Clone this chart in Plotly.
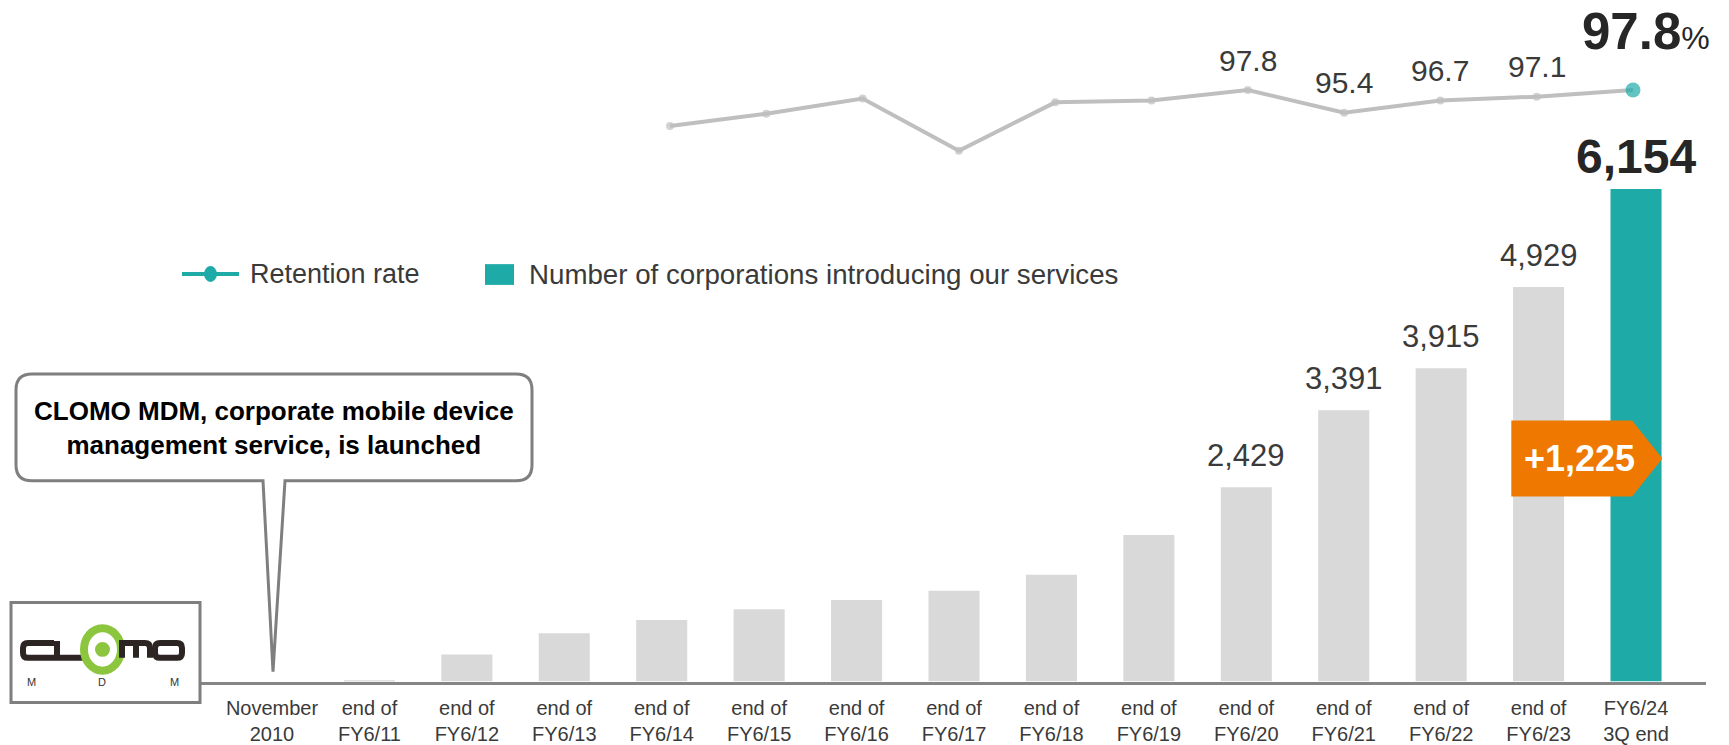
import plotly.graph_objects as go

# ---- data -------------------------------------------------------------
categories = [
    "November<br>2010", "end of<br>FY6/11", "end of<br>FY6/12", "end of<br>FY6/13",
    "end of<br>FY6/14", "end of<br>FY6/15", "end of<br>FY6/16", "end of<br>FY6/17",
    "end of<br>FY6/18", "end of<br>FY6/19", "end of<br>FY6/20", "end of<br>FY6/21",
    "end of<br>FY6/22", "end of<br>FY6/23", "FY6/24<br>3Q end",
]
corporations = [0, 10, 340, 605, 770, 905, 1020, 1135, 1335, 1830,
                2429, 3391, 3915, 4929, 6154]

retention_periods = categories[4:]
retention_rate = [94.0, 95.3, 96.9, 91.4, 96.5, 96.7, 97.8, 95.4, 96.7, 97.1, 97.8]

labelled = categories[10:14]          # periods whose values are printed

# ---- styling ----------------------------------------------------------
W, H = 1729, 745
TEAL = "#1eaba8"
BAR_GREY = "#d9d9d9"
LINE_GREY = "#bfbfbf"
FRAME_GREY = "#7f7f7f"
TEXT = "#3a3a3a"
ORANGE = "#ee7800"
SANS = "Liberation Sans, Arial, sans-serif"
NARROW = "Liberation Sans Narrow, Liberation Sans, Arial, sans-serif"


def px(x):
    return x / W


def py(y):
    return 1 - y / H


n = len(categories)
bar_colors = [BAR_GREY] * (n - 1) + [TEAL]
m = len(retention_rate)
marker_colors = [LINE_GREY] * (m - 1) + [TEAL]
marker_sizes = [8] * (m - 1) + [15]

fig = go.Figure()

fig.add_trace(go.Bar(
    x=categories, y=corporations,
    marker=dict(color=bar_colors, line=dict(width=0)),
    hoverinfo="skip", showlegend=False,
    xaxis="x", yaxis="y",
))

fig.add_trace(go.Scatter(
    x=retention_periods, y=retention_rate,
    mode="lines+markers",
    line=dict(color=LINE_GREY, width=4),
    marker=dict(color=marker_colors, size=marker_sizes, line=dict(width=0)),
    hoverinfo="skip", showlegend=False,
    xaxis="x2", yaxis="y2",
))

annotations = []

# value labels on bars
for cat in labelled:
    v = corporations[categories.index(cat)]
    annotations.append(dict(
        x=cat, y=v, xref="x", yref="y", text=f"{v:,}", showarrow=False,
        yanchor="middle", yshift=32,
        font=dict(family=SANS, size=31, color=TEXT),
    ))
annotations.append(dict(
    x=categories[-1], y=corporations[-1], xref="x", yref="y",
    text=f"<b>{corporations[-1]:,}</b>", showarrow=False,
    yanchor="middle", yshift=32,
    font=dict(family=SANS, size=48, color="#262626"),
))

# value labels on the retention line
for cat in labelled:
    r = retention_rate[retention_periods.index(cat)]
    annotations.append(dict(
        x=cat, y=r, xref="x2", yref="y2", text=f"{r:.1f}", showarrow=False,
        yanchor="middle", yshift=30,
        font=dict(family=SANS, size=30, color=TEXT),
    ))
annotations.append(dict(
    x=retention_periods[-1], y=retention_rate[-1], xref="x2", yref="y2",
    text=f"<b>{retention_rate[-1]:.1f}</b><span style='font-size:32px'>%</span>",
    showarrow=False, yanchor="middle", yshift=59, xshift=13,
    font=dict(family=SANS, size=51, color="#262626"),
))

# year-on-year increase badge
increase = corporations[-1] - corporations[-2]
annotations.append(dict(
    x=13.34, y=2787, xref="x", yref="y", text=f"<b>+{increase:,}</b>",
    showarrow=False, yanchor="middle", xshift=8,
    font=dict(family=SANS, size=36, color="white"),
))

# legend
annotations.append(dict(
    x=px(248), y=py(277), xref="paper", yref="paper", text="Retention rate",
    showarrow=False, xanchor="left", yanchor="middle",
    font=dict(family=SANS, size=27, color=TEXT),
))
annotations.append(dict(
    x=px(527), y=py(277), xref="paper", yref="paper",
    text="Number of corporations introducing our services",
    showarrow=False, xanchor="left", yanchor="middle",
    font=dict(family=SANS, size=27.7, color=TEXT),
))

# launch callout text
annotations.append(dict(
    x=px(274), y=py(433), xref="paper", yref="paper",
    text="<b>CLOMO MDM, corporate mobile device<br>management service, is launched</b>",
    showarrow=False, xanchor="center", yanchor="middle", align="center",
    font=dict(family=SANS, size=26, color="black"),
))

# logo lettering under the mark
for lx, ch in [(31, "M"), (102, "D"), (174, "M")]:
    annotations.append(dict(
        x=px(lx), y=py(689), xref="paper", yref="paper", text=ch,
        showarrow=False, xanchor="center", yanchor="middle",
        font=dict(family=SANS, size=11, color="#333333"),
    ))

shapes = []

# callout bubble with pointer
L, T, R, B, rad = 16, 378, 532, 486, 16
tip_x, tip_y = 273, 679
pts = (
    f"M {px(L + rad)},{py(T)} L {px(R - rad)},{py(T)} "
    f"Q {px(R)},{py(T)} {px(R)},{py(T + rad)} L {px(R)},{py(B - rad)} "
    f"Q {px(R)},{py(B)} {px(R - rad)},{py(B)} L {px(285)},{py(B)} "
    f"L {px(tip_x)},{py(tip_y)} L {px(263)},{py(B)} L {px(L + rad)},{py(B)} "
    f"Q {px(L)},{py(B)} {px(L)},{py(B - rad)} L {px(L)},{py(T + rad)} "
    f"Q {px(L)},{py(T)} {px(L + rad)},{py(T)} Z"
)
shapes.append(dict(type="path", xref="paper", yref="paper", path=pts,
                   fillcolor="white", line=dict(color=FRAME_GREY, width=3)))

# logo frame
shapes.append(dict(type="rect", xref="paper", yref="paper",
                   x0=px(11), x1=px(200), y0=py(609), y1=py(710),
                   fillcolor="white", line=dict(color=FRAME_GREY, width=3)))

# logo mark: c, l, ring, m, o
DARK = "#2d2424"
GREEN = "#8cc63f"
dy = 3


def stroke(d, color=DARK, w=6):
    shapes.append(dict(type="path", xref="paper", yref="paper", path=d,
                       line=dict(color=color, width=w)))


def P(x, y):
    return f"{px(x)},{py(y + dy)}"


stroke(f"M {P(54,647)} L {P(28,647)} Q {P(23,647)} {P(23,652)} L {P(23,657)} "
       f"Q {P(23,662)} {P(28,662)} L {P(54,662)}")
stroke(f"M {P(57,645)} L {P(57,662)} L {P(84,662)}")
shapes.append(dict(type="circle", xref="paper", yref="paper",
                   x0=px(84), x1=px(121), y0=py(632 + dy), y1=py(675 + dy),
                   fillcolor="white", line=dict(color=GREEN, width=8)))
shapes.append(dict(type="circle", xref="paper", yref="paper",
                   x0=px(95), x1=px(110), y0=py(646 + dy), y1=py(661 + dy),
                   fillcolor=GREEN, line=dict(width=0)))
stroke(f"M {P(122,662)} L {P(122,647)} L {P(145,647)} Q {P(150,647)} {P(150,652)} "
       f"L {P(150,662)} M {P(136,647)} L {P(136,662)}")
stroke(f"M {P(160,647)} L {P(177,647)} Q {P(182,647)} {P(182,652)} L {P(182,657)} "
       f"Q {P(182,662)} {P(177,662)} L {P(160,662)} Q {P(155,662)} {P(155,657)} "
       f"L {P(155,652)} Q {P(155,647)} {P(160,647)} Z")

# increase badge (pentagon arrow across the last two bars)
shapes.append(dict(
    type="path", xref="x", yref="y", layer="above",
    path="M 12.72,3262 L 13.96,3262 L 14.27,2787 L 13.96,2311 L 12.72,2311 Z",
    fillcolor=ORANGE, line=dict(width=0),
))

# legend keys
shapes.append(dict(type="line", xref="paper", yref="paper",
                   x0=px(182), x1=px(239), y0=py(277), y1=py(277),
                   line=dict(color=TEAL, width=4)))
shapes.append(dict(type="circle", xref="paper", yref="paper",
                   x0=px(204), x1=px(217), y0=py(269), y1=py(285),
                   fillcolor=TEAL, line=dict(width=0)))
shapes.append(dict(type="rect", xref="paper", yref="paper",
                   x0=px(485), x1=px(514), y0=py(267), y1=py(288),
                   fillcolor=TEAL, line=dict(width=0)))

# axes geometry
x_left, x_right = 197, 1706
step = 97.43
centre0 = 272
line_centre0, line_step = 670, 96.3
base_px, top_px = 689, 160
scale = 0.08092                        # px per corporation
y2_top_px, y2_bot_px = 40, 170
y2_ref_px, y2_ref_val, y2_scale = 91, 97.8, 9.58

fig.update_layout(
    width=W, height=H,
    margin=dict(l=0, r=0, t=0, b=0),
    paper_bgcolor="white", plot_bgcolor="white",
    bargap=0.476,
    showlegend=False,
    xaxis=dict(
        domain=[px(x_left), px(x_right)],
        range=[(x_left - centre0) / step, (x_right - centre0) / step],
        type="category", categoryorder="array", categoryarray=categories,
        showgrid=False, zeroline=False,
        showline=True, linecolor="#868686", linewidth=2.5,
        ticks="", ticklabelstandoff=7,
        tickfont=dict(family=NARROW, size=20, color=TEXT),
        fixedrange=True,
    ),
    xaxis2=dict(
        domain=[px(x_left), px(x_right)],
        range=[(x_left - line_centre0) / line_step,
               (x_right - line_centre0) / line_step],
        type="category", categoryorder="array", categoryarray=retention_periods,
        anchor="y2", visible=False, fixedrange=True,
    ),
    yaxis=dict(
        domain=[py(base_px), py(top_px)],
        range=[0, (base_px - top_px) / scale],
        visible=False, fixedrange=True,
    ),
    yaxis2=dict(
        domain=[py(y2_bot_px), py(y2_top_px)],
        range=[y2_ref_val - (y2_bot_px - y2_ref_px) / y2_scale,
               y2_ref_val + (y2_ref_px - y2_top_px) / y2_scale],
        anchor="x2", visible=False, fixedrange=True,
    ),
    annotations=annotations,
    shapes=shapes,
)

fig.write_html("out.html")
